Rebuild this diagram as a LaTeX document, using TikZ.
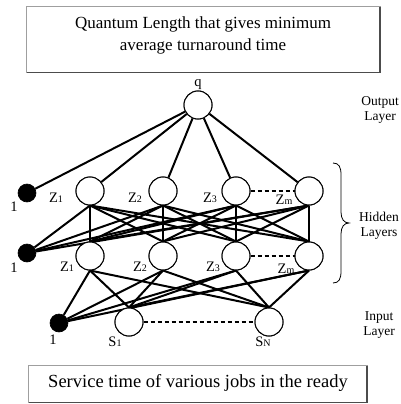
\documentclass[tikz,border=0pt]{standalone}
\usepackage{fontspec}
\setmainfont{Liberation Serif}
\newcommand\zlab[2]{#1{\fontsize{10}{10}\selectfont #2}}
\begin{document}
\begin{tikzpicture}[x=1pt,y=-1pt,
  neuron/.style={circle,draw,line width=1pt,minimum size=28pt,inner sep=0pt,fill=white},
  bias/.style={circle,fill=black,draw,line width=0.6pt,minimum size=18pt,inner sep=0pt},
  conn/.style={line width=2pt},
  dashconn/.style={line width=1.1pt,dash pattern=on 4pt off 3pt},
  lab/.style={font=\fontsize{14.5}{15}\selectfont,inner sep=0pt},
  sidelab/.style={inner sep=0pt,align=center,font=\fontsize{13.5}{15.5}\selectfont},
  boxtext/.style={inner sep=0pt,align=center}]
\useasboundingbox (0,0) rectangle (400,404);
% top box
\draw[gray!75,line width=1pt] (26,7) rectangle (380,72);
\draw[gray!60!black,line width=1.4pt] (380,7.5) -- (380,72.5) -- (26.5,72.5);
\node[boxtext,font=\fontsize{17}{22}\selectfont] (ttext) at (203,35) {Quantum Length that gives minimum\\average turnaround time};
% bottom box
\draw[gray!75,line width=1pt] (28,365) rectangle (367,402);
\draw[gray!60!black,line width=1.4pt] (367,365.5) -- (367,402.5) -- (28.5,402.5);
\node[boxtext,font=\fontsize{18.5}{22}\selectfont] (btext) at (198,383) {Service time of various jobs in the ready};
% nodes
\node[neuron] (q) at (198,105) {};
\node[lab] (ql) at (198,85) {q};
\node[bias] (b1) at (27,193) {};
\node[bias] (b2) at (27,253) {};
\node[bias] (b3) at (59,323) {};
\node[lab] (b1l) at (14,207) {1};
\node[lab] (b2l) at (14,268) {1};
\node[lab] (b3l) at (53,340) {1};
\foreach \n/\x in {1/90,2/163,3/236,m/309}{
  \node[neuron] (t\n) at (\x,191) {};
  \node[neuron] (h\n) at (\x,256) {};
}
\node[neuron] (s1) at (129,322) {};
\node[neuron] (sN) at (269,322) {};
% labels
\node[lab] (lt1) at (56,198) {\zlab{Z}{1}};
\node[lab] (lt2) at (135,198) {\zlab{Z}{2}};
\node[lab] (lt3) at (210,198) {\zlab{Z}{3}};
\node[lab] (ltm) at (284,200) {\zlab{Z}{m}};
\node[lab] (lh1) at (67,267) {\zlab{Z}{1}};
\node[lab] (lh2) at (140,267) {\zlab{Z}{2}};
\node[lab] (lh3) at (213,267) {\zlab{Z}{3}};
\node[lab] (lhm) at (286,269) {\zlab{Z}{m}};
\node[lab] (ls1) at (115,342) {\zlab{S}{1}};
\node[lab] (lsN) at (263,342) {\zlab{S}{N}};
\node[sidelab] (outl) at (380,110) {Output\\Layer};
\node[sidelab] (hidl) at (379,226) {Hidden\\Layers};
\node[sidelab] (inl) at (379,325) {Input\\Layer};
% brace
\draw[line width=0.8pt] (333,163) .. controls (339,163) and (341,167) .. (341,175) -- (341,212) .. controls (341,219) and (344,223) .. (349,223) .. controls (344,223) and (341,227) .. (341,234) -- (341,271) .. controls (341,279) and (339,283) .. (333,283);
% connectors
\foreach \a in {1,2,3,m}{
  \draw[conn] (q) -- (t\a);
  \draw[conn] (b2) -- (t\a.south);
  \draw[conn] (b3) -- (h\a.south);
  \draw[conn] (s1.north) -- (h\a.south);
  \draw[conn] (sN.north) -- (h\a.south);
  \foreach \b in {1,2,3,m}{
    \draw[conn] (t\a.south) -- (h\b.north);
  }
}
\draw[conn] (q) -- (b1);
\draw[dashconn] (t3.east) -- (tm.west);
\draw[dashconn] (h3.east) -- (hm.west);
\draw[dashconn] (s1.east) -- (sN.west);
% redraw circles on top
\foreach \n/\x in {1/90,2/163,3/236,m/309}{
  \node[neuron] at (\x,191) {};
  \node[neuron] at (\x,256) {};
}
\node[neuron] at (198,105) {};
\node[neuron] at (129,322) {};
\node[neuron] at (269,322) {};
\end{tikzpicture}
\end{document}
